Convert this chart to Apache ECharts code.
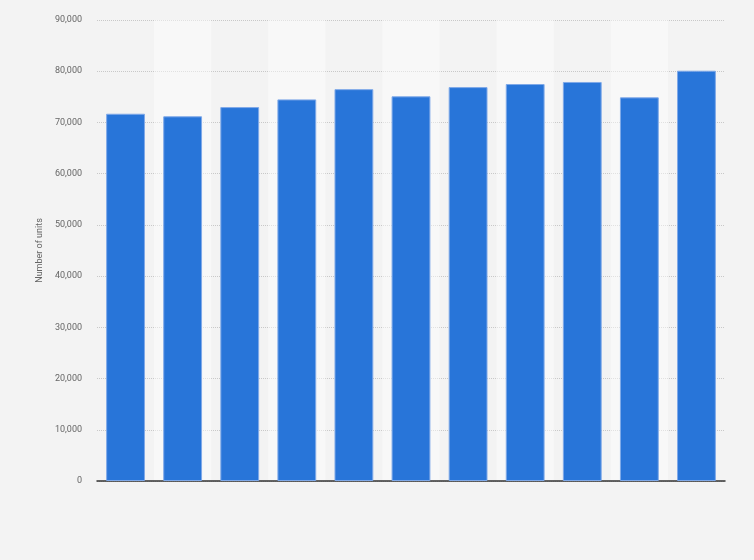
<!DOCTYPE html>
<html>
<head>
<meta charset="utf-8">
<script src="https://cdn.jsdelivr.net/npm/echarts@6/dist/echarts.min.js"></script>
<style>
  html, body { margin: 0; padding: 0; background: #f3f3f3; }
  #chart { width: 754px; height: 560px; }
</style>
</head>
<body>
<div id="chart"></div>
<script>
// categories have no visible labels in the picture
var categories = ['1', '2', '3', '4', '5', '6', '7', '8', '9', '10', '11'];
var units = [71700, 71200, 73000, 74500, 76500, 75100, 76900, 77500, 77900, 74900, 80100];
var yTicks = { min: 0, max: 90000, step: 10000 };

var myChart = echarts.init(document.getElementById('chart'));
var option = {
  backgroundColor: '#f3f3f3',
  animation: false,
  grid: {
    left: 97,
    right: 29,
    top: 20,
    bottom: 79
  },
  xAxis: {
    type: 'category',
    data: categories,
    axisLine: { lineStyle: { color: '#333', width: 1.5 } },
    axisTick: { show: false },
    axisLabel: { show: false },
    splitArea: {
      show: true,
      areaStyle: { color: ['rgba(255,255,255,0)', 'rgba(255,255,255,0.45)'] }
    }
  },
  yAxis: {
    type: 'value',
    min: yTicks.min,
    max: yTicks.max,
    interval: yTicks.step,
    name: 'Number of units',
    nameLocation: 'middle',
    nameGap: 52,
    nameTextStyle: { color: '#666', fontSize: 9, fontFamily: 'Roboto' },
    axisLine: { show: false },
    axisTick: { show: false },
    axisLabel: {
      color: '#666',
      fontSize: 9,
      fontFamily: 'Roboto',
      margin: 15,
      formatter: function (v) { return v.toLocaleString('en-US'); }
    },
    splitLine: { lineStyle: { type: 'dotted', color: '#c8c8c8' } }
  },
  series: [{
    type: 'bar',
    data: units,
    barCategoryGap: '32%',
    itemStyle: {
      color: '#2875d9',
      borderColor: '#7fa9e8',
      borderWidth: 1
    }
  }]
};
myChart.setOption(option);
</script>
</body>
</html>
